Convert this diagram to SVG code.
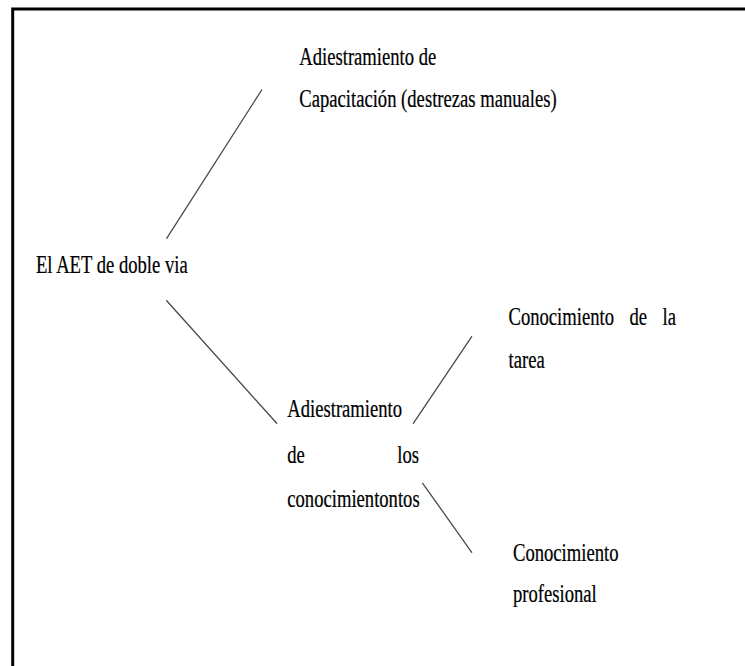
<svg xmlns="http://www.w3.org/2000/svg" width="745" height="666" viewBox="0 0 745 666">
<style>
  .t { font-family: "Liberation Serif", "DejaVu Serif", serif; font-size: 25px; fill: #000; stroke: #000; stroke-width: 0.25; }
  .c { stroke: #4a4a4a; stroke-width: 1.3; fill: none; stroke-linecap: round; }
  .frame { stroke: #000; stroke-width: 3; fill: none; }
</style>
<rect width="745" height="666" fill="#fff"/>
<path class="frame" d="M12.7,666 V9 H745"/>
<g id="connectors">
  <line class="c" x1="261.7" y1="90" x2="166.7" y2="238.3"/>
  <line class="c" x1="166.7" y1="300.7" x2="276.7" y2="423.3"/>
  <line class="c" x1="471.7" y1="336.7" x2="413.3" y2="423.3"/>
  <line class="c" x1="422.7" y1="483.3" x2="471.7" y2="552.3"/>
</g>
<g id="node-aet">
  <text class="t" transform="translate(36,272.5) scale(0.745,1)" x="0" y="0">El AET de doble via</text>
</g>
<g id="node-capacitacion">
  <text class="t" transform="translate(299.3,65) scale(0.745,1)" x="0" y="0">Adiestramiento de</text>
  <text class="t" transform="translate(299.3,107) scale(0.745,1)" x="0" y="0">Capacitación (destrezas manuales)</text>
</g>
<g id="node-conocimientos">
  <text class="t" transform="translate(287.3,416.5) scale(0.745,1)" x="0" y="0">Adiestramiento</text>
  <text class="t" transform="translate(287.3,462.5) scale(0.745,1)" y="0"><tspan x="0">de</tspan> <tspan x="147.6">los</tspan></text>
  <text class="t" transform="translate(287.3,506.5) scale(0.745,1)" x="0" y="0">conocimientontos</text>
</g>
<g id="node-tarea">
  <text class="t" transform="translate(508.5,325) scale(0.745,1)" y="0"><tspan x="0">Conocimiento</tspan> <tspan x="162.3">de</tspan> <tspan x="206.7">la</tspan></text>
  <text class="t" transform="translate(508.5,368) scale(0.745,1)" x="0" y="0">tarea</text>
</g>
<g id="node-profesional">
  <text class="t" transform="translate(513,561) scale(0.745,1)" x="0" y="0">Conocimiento</text>
  <text class="t" transform="translate(513,602) scale(0.745,1)" x="0" y="0">profesional</text>
</g>
</svg>
